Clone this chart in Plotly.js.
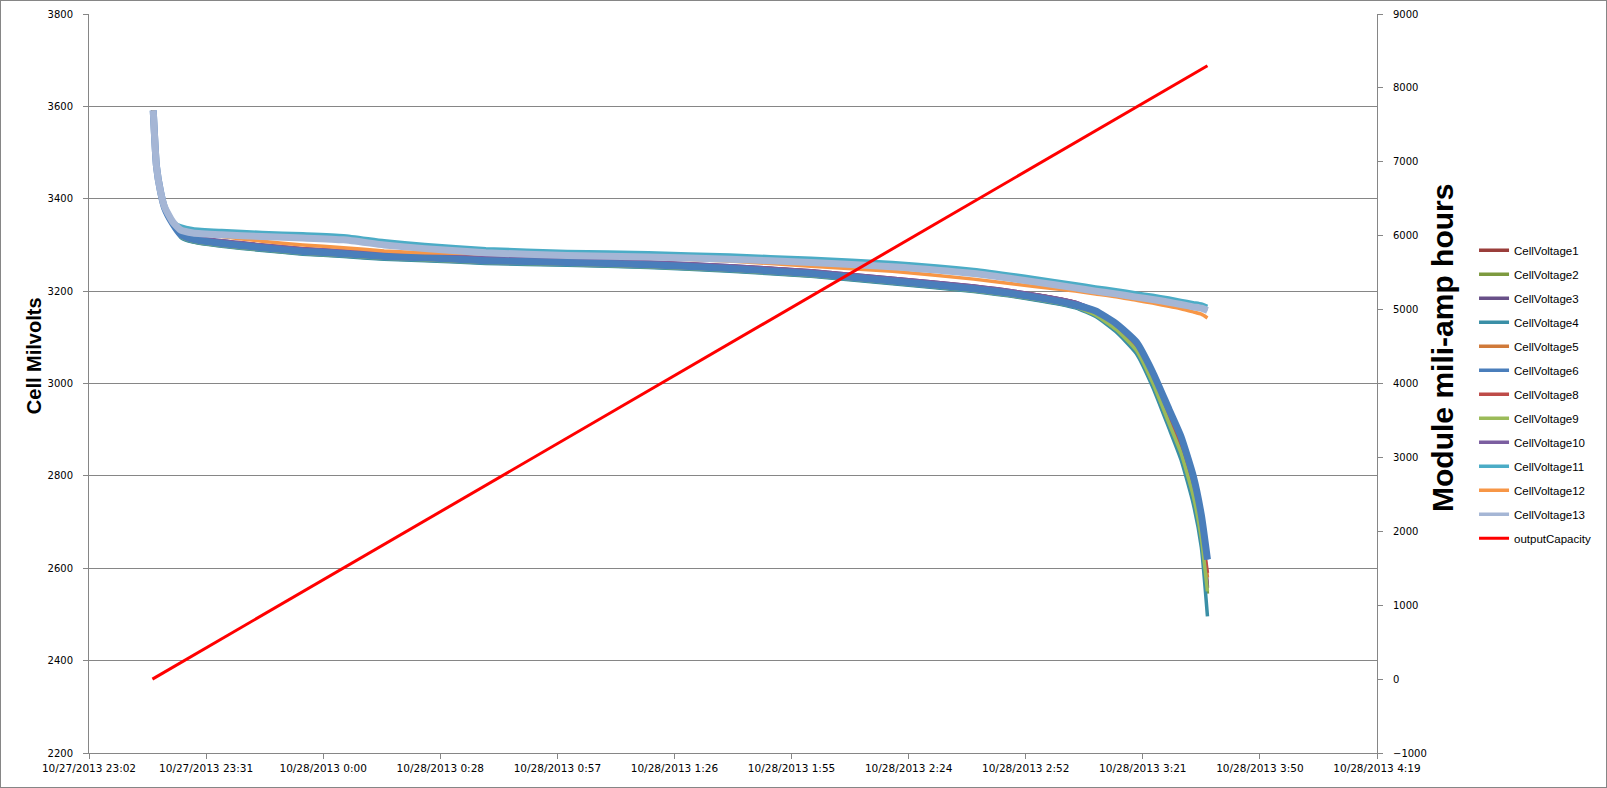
<!DOCTYPE html>
<html>
<head>
<meta charset="utf-8">
<script src="https://cdn.plot.ly/plotly-3.0.1.min.js"></script>
<style>
  html, body { margin: 0; padding: 0; background: #fff; }
  #wrap { position: relative; width: 1607px; height: 788px; }
  #chart { position: absolute; left: 0; top: 0; width: 1607px; height: 788px; }
  #frame { position: absolute; left: 0; top: 0; width: 1607px; height: 788px; box-sizing: border-box; border: 1px solid #868686; pointer-events: none; }
</style>
</head>
<body>
<div id="wrap"><div id="chart"></div><div id="frame"></div></div>
<script>
// ---- data ----
const times = ['2013-10-27 23:18:12','2013-10-27 23:19:00','2013-10-27 23:20:00','2013-10-27 23:21:00','2013-10-27 23:23:00','2013-10-27 23:25:00','2013-10-27 23:28:00','2013-10-27 23:35:00','2013-10-27 23:45:00','2013-10-27 23:55:00','2013-10-28 00:05:00','2013-10-28 00:15:00','2013-10-28 00:25:00','2013-10-28 00:40:00','2013-10-28 01:00:00','2013-10-28 01:20:00','2013-10-28 01:40:00','2013-10-28 02:00:00','2013-10-28 02:20:00','2013-10-28 02:40:00','2013-10-28 02:55:00','2013-10-28 03:05:00','2013-10-28 03:10:00','2013-10-28 03:15:00','2013-10-28 03:20:00','2013-10-28 03:24:00','2013-10-28 03:28:00','2013-10-28 03:31:00','2013-10-28 03:34:00','2013-10-28 03:36:00','2013-10-28 03:37:30'];

const cellVoltage1  = [3591,3470,3415,3380,3346,3327,3317,3308,3299,3291,3286,3280,3277,3271,3267,3262,3254,3243,3227,3210,3192,3175,3154,3125,3082,3014,2930,2866,2776,2686,2560];
const cellVoltage2  = [3591,3470,3415,3380,3346,3317,3307,3298,3289,3281,3276,3270,3267,3261,3257,3252,3244,3233,3217,3200,3182,3165,3147,3116,3071,3001,2914,2848,2756,2664,2545];
const cellVoltage3  = [3591,3470,3415,3380,3346,3328,3318,3309,3300,3292,3287,3281,3278,3272,3268,3263,3255,3244,3228,3211,3193,3176,3155,3126,3083,3015,2932,2868,2778,2688,2557];
const cellVoltage4  = [3591,3470,3415,3380,3346,3316,3306,3297,3288,3280,3275,3269,3266,3260,3256,3251,3243,3232,3216,3199,3181,3164,3145,3112,3065,2993,2904,2835,2740,2645,2496];
const cellVoltage5  = [3591,3470,3415,3380,3346,3325,3315,3306,3297,3289,3284,3278,3275,3269,3265,3260,3252,3241,3225,3208,3190,3173,3152,3122,3078,3010,2925,2860,2770,2680,2580];
const cellVoltage6  = [3591,3470,3415,3380,3346,3322,3312,3303,3294,3286,3281,3275,3272,3266,3262,3257,3249,3238,3222,3205,3187,3170,3157,3130,3090,3025,2945,2885,2800,2715,2619];
const cellVoltage8  = [3591,3470,3415,3380,3346,3327,3317,3308,3299,3291,3286,3280,3277,3271,3267,3262,3254,3243,3227,3210,3192,3175,3153,3124,3081,3013,2929,2864,2774,2684,2590];
const cellVoltage9  = [3591,3470,3415,3380,3346,3318,3308,3299,3290,3282,3277,3271,3268,3262,3258,3253,3245,3234,3218,3201,3183,3166,3148,3117,3072,3002,2915,2849,2757,2665,2550];
const cellVoltage10 = [3591,3470,3415,3380,3346,3328,3318,3309,3300,3292,3287,3281,3278,3272,3268,3263,3255,3244,3228,3211,3193,3176,3158,3131,3091,3026,2946,2885,2800,2712,2620];
const cellVoltage11 = [3591,3470,3415,3382,3350,3341,3335,3331,3327,3324,3320,3309,3301,3292,3286,3283,3278,3271,3262,3247,3229,3216,3209,3203,3196,3191,3185,3180,3175,3172,3167];
const cellVoltage12 = [3591,3470,3415,3382,3350,3332,3325,3318,3308,3300,3294,3287,3283,3281,3276,3272,3265,3254,3243,3226,3210,3200,3194,3188,3180,3174,3167,3162,3155,3150,3142];
const cellVoltage13 = [3591,3470,3415,3382,3350,3332,3326,3322,3318,3315,3311,3300,3292,3283,3277,3274,3269,3262,3253,3238,3220,3207,3200,3194,3187,3182,3176,3171,3166,3163,3158];

const capacityTimes  = ['2013-10-27 23:18:00','2013-10-28 00:25:00','2013-10-28 01:40:00','2013-10-28 02:55:00','2013-10-28 03:37:30'];
const outputCapacity = [0, 2140, 4540, 6940, 8300];

const seriesNames  = ['CellVoltage1','CellVoltage2','CellVoltage3','CellVoltage4','CellVoltage5','CellVoltage6','CellVoltage8','CellVoltage9','CellVoltage10','CellVoltage11','CellVoltage12','CellVoltage13'];
const seriesValues = [cellVoltage1,cellVoltage2,cellVoltage3,cellVoltage4,cellVoltage5,cellVoltage6,cellVoltage8,cellVoltage9,cellVoltage10,cellVoltage11,cellVoltage12,cellVoltage13];
const seriesColors = ['#9A3D3A','#7D9A3F','#685088','#3A8FA6','#D07A3A','#4A7EBB','#BE4B48','#9BBB59','#7B5EA0','#4BACC6','#F79646','#A5B6D5'];
// the two dominant cells are drawn with a wide "band" stroke (their sampled ripple makes the lines look thick)
const bandWidths   = [0, 0, 0, 0, 0, 7, 0, 0, 0, 0, 0, 7];
// drawing order (legend order is kept by legendrank)
const drawOrder = [0, 1, 2, 3, 4, 6, 7, 8, 5, 9, 10, 11];

const xTickVals = ['2013-10-27 23:02:24','2013-10-27 23:31:12','2013-10-28 00:00:00','2013-10-28 00:28:48','2013-10-28 00:57:36','2013-10-28 01:26:24','2013-10-28 01:55:12','2013-10-28 02:24:00','2013-10-28 02:52:48','2013-10-28 03:21:36','2013-10-28 03:50:24','2013-10-28 04:19:12'];
const xTickText = ['10/27/2013 23:02','10/27/2013 23:31','10/28/2013 0:00','10/28/2013 0:28','10/28/2013 0:57','10/28/2013 1:26','10/28/2013 1:55','10/28/2013 2:24','10/28/2013 2:52','10/28/2013 3:21','10/28/2013 3:50','10/28/2013 4:19'];

const leftTitle  = 'Cell Milvolts';
const rightTitle = 'Module mili-amp hours';

// ---- traces ----
const traces = [];
drawOrder.forEach(i => {
  if (bandWidths[i] > 0) {
    traces.push({
      type: 'scatter', mode: 'lines', name: seriesNames[i], legendgroup: seriesNames[i],
      showlegend: false, hoverinfo: 'skip',
      x: times, y: seriesValues[i],
      line: { color: seriesColors[i], width: bandWidths[i], shape: 'spline', smoothing: 0.5 },
      yaxis: 'y'
    });
  }
  traces.push({
    type: 'scatter', mode: 'lines', name: seriesNames[i], legendgroup: seriesNames[i],
    legendrank: i + 1,
    x: times, y: seriesValues[i],
    line: { color: seriesColors[i], width: 3.5, shape: 'spline', smoothing: 0.5 },
    yaxis: 'y'
  });
});
traces.push({
  type: 'scatter', mode: 'lines', name: 'outputCapacity', legendgroup: 'outputCapacity',
  legendrank: 13,
  x: capacityTimes, y: outputCapacity,
  line: { color: '#FF0000', width: 3 },
  yaxis: 'y2'
});

const tickFont = { family: 'DejaVu Sans, Verdana, sans-serif', size: 10, color: '#000' };
const grey = '#868686';

const layout = {
  width: 1607, height: 788,
  margin: { l: 89, r: 229, t: 14, b: 35, pad: 0 },
  paper_bgcolor: '#fff', plot_bgcolor: '#fff',
  showlegend: true,
  legend: {
    x: 1.0745, xanchor: 'left', y: 0.70, yanchor: 'top',
    font: { family: 'Liberation Sans, Arial, sans-serif', size: 11.5, color: '#000' },
    tracegroupgap: 5, traceorder: 'grouped', bgcolor: 'rgba(0,0,0,0)'
  },
  xaxis: {
    type: 'date',
    range: ['2013-10-27 23:02:24', '2013-10-28 04:19:12'],
    tickmode: 'array', tickvals: xTickVals, ticktext: xTickText,
    ticks: 'outside', ticklen: 5, tickcolor: grey, tickwidth: 1,
    showline: true, linecolor: grey, linewidth: 1,
    showgrid: false, zeroline: false,
    tickfont: { family: 'DejaVu Sans, Verdana, sans-serif', size: 10.5, color: '#000' },
    fixedrange: true
  },
  yaxis: {
    range: [2200, 3800], dtick: 200, tick0: 2200,
    ticks: 'outside', ticklen: 5, tickcolor: grey, tickwidth: 1,
    showline: true, linecolor: grey, linewidth: 1,
    showgrid: true, gridcolor: grey, gridwidth: 1, zeroline: false,
    tickfont: tickFont, ticklabelstandoff: 8,
    fixedrange: true
  },
  yaxis2: {
    overlaying: 'y', side: 'right',
    range: [-1000, 9000], dtick: 1000, tick0: -1000,
    ticks: 'outside', ticklen: 5, tickcolor: grey, tickwidth: 1,
    showline: true, linecolor: grey, linewidth: 1,
    showgrid: false, zeroline: false,
    tickfont: tickFont, ticklabelstandoff: 8,
    fixedrange: true
  },
  annotations: [
    { text: leftTitle, textangle: -90, xref: 'paper', yref: 'paper',
      x: -0.0427, y: 0.537, xanchor: 'center', yanchor: 'middle', showarrow: false,
      font: { family: 'Liberation Sans, Arial, sans-serif', size: 20, weight: 'bold', color: '#000' } },
    { text: rightTitle, textangle: -90, xref: 'paper', yref: 'paper',
      x: 1.0504, y: 0.548, xanchor: 'center', yanchor: 'middle', showarrow: false,
      font: { family: 'Liberation Sans, Arial, sans-serif', size: 30, weight: 'bold', color: '#000' } }
  ]
};

Plotly.newPlot('chart', traces, layout, { displayModeBar: false, staticPlot: true });
</script>
</body>
</html>
